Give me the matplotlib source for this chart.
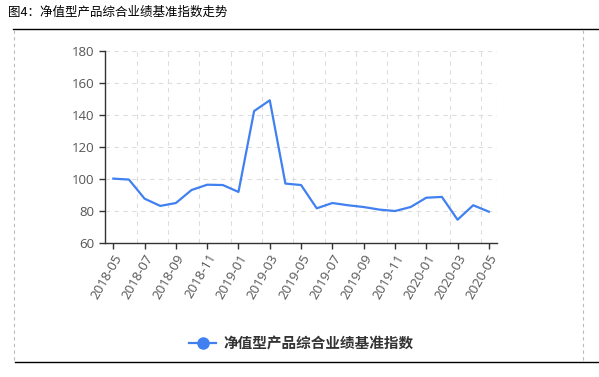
import matplotlib
matplotlib.use('Agg')
import matplotlib.pyplot as plt
import numpy as np
from matplotlib.lines import Line2D

plt.rcParams['font.family'] = ['Noto Sans CJK SC', 'DejaVu Sans']

months = ['2018-05', '2018-06', '2018-07', '2018-08', '2018-09', '2018-10', '2018-11', '2018-12',
          '2019-01', '2019-02', '2019-03', '2019-04', '2019-05', '2019-06', '2019-07', '2019-08',
          '2019-09', '2019-10', '2019-11', '2019-12', '2020-01', '2020-02', '2020-03', '2020-04',
          '2020-05']
index_vals = [100.3, 99.7, 87.8, 83.3, 85.1, 93.2, 96.5, 96.3,
              92.0, 142.4, 149.1, 97.2, 96.3, 81.8, 85.1, 83.7,
              82.6, 81.0, 80.1, 82.6, 88.4, 88.9, 74.7, 83.7,
              79.7]
series_name = '净值型产品综合业绩基准指数'
title = '图4：净值型产品综合业绩基准指数走势'

W, H = 599, 377
fig = plt.figure(figsize=(W / 100, H / 100), dpi=100)

left, right, top, bottom = 105, 497.3, 50.7, 243.3
ax = fig.add_axes([left / W, 1 - bottom / H, (right - left) / W, (bottom - top) / H])

x = np.arange(len(months))
line_color = '#4080f0'
ax.plot(x, index_vals, color=line_color, lw=1.6, solid_joinstyle='round', zorder=3)

xl = (-0.53, len(months) - 1 + 0.54)
ax.set_xlim(*xl)
ax.set_ylim(60, 180)

grid_kw = dict(color='#dddddd', lw=0.8, ls=(0, (4, 4)), zorder=1)
for yv in range(80, 181, 20):
    ax.axhline(yv, **grid_kw)
for gx in np.arange(1.5, len(months), 2):
    ax.axvline(gx, **grid_kw)
ax.axvline(xl[1], **grid_kw)

tick_pos = x[::2]
ax.set_xticks(tick_pos)
ax.set_xticklabels(months[::2], rotation=60, ha='right', rotation_mode='anchor')
ax.set_yticks(range(60, 181, 20))

for s in ['top', 'right']:
    ax.spines[s].set_visible(False)
for s in ['left', 'bottom']:
    ax.spines[s].set_color('#333333')
    ax.spines[s].set_linewidth(1.0)
ax.tick_params(axis='both', colors='#333333', labelcolor='#555555', labelsize=9.5,
               length=4, width=1.0)
ax.tick_params(axis='x', pad=2)
for lab in ax.get_xticklabels() + ax.get_yticklabels():
    lab.set_family(['Open Sans', 'DejaVu Sans'])

# title and frame lines
fig.text(8 / W, 1 - 12 / H, title, fontsize=9, color='#000000', va='center', ha='left')
fig.add_artist(Line2D([13 / W, 598 / W], [1 - 29 / H, 1 - 29 / H], color='black', lw=1.0))
fig.add_artist(Line2D([15 / W, 598 / W], [1 - 362 / H, 1 - 362 / H], color='black', lw=1.0))
for bx in (14, 583):
    fig.add_artist(Line2D([bx / W, bx / W], [1 - 30 / H, 1 - 361 / H], color='#bbbbbb',
                          lw=0.8, ls=(0, (3, 3))))

handle = Line2D([], [], color=line_color, lw=1.6, marker='o', markersize=8,
                markerfacecolor=line_color, markeredgecolor=line_color)
fig.legend([handle], [series_name], loc='center', bbox_to_anchor=(0.503, 1 - 343 / H),
           frameon=False, handlelength=1.8, handletextpad=0.5,
           prop={'size': 10.5, 'weight': 'bold'}, labelcolor='#333333')

fig.savefig('out.png', dpi=100)
